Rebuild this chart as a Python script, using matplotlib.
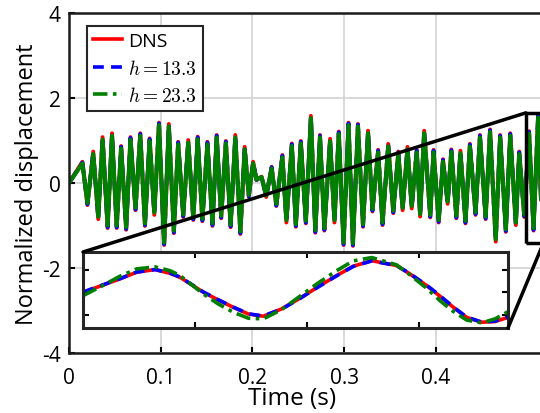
import matplotlib
matplotlib.use('Agg')
import matplotlib.pyplot as plt
from matplotlib.patches import Rectangle, ConnectionPatch

plt.rcParams['font.family'] = ['Open Sans', 'DejaVu Sans']
plt.rcParams['mathtext.fontset'] = 'cm'
plt.rcParams['axes.unicode_minus'] = False

# main trace: successive peaks / troughs
t_main = [0.0000, 0.0146, 0.0201, 0.0264, 0.0319, 0.0366, 0.0421, 0.0469, 0.0520, 0.0568,
          0.0623, 0.0670, 0.0725, 0.0777, 0.0828, 0.0879, 0.0930, 0.0981, 0.1037, 0.1088,
          0.1143, 0.1190, 0.1245, 0.1300, 0.1355, 0.1403, 0.1454, 0.1509, 0.1564, 0.1610,
          0.1659, 0.1710, 0.1762, 0.1813, 0.1868, 0.1915, 0.1960, 0.2007, 0.2044, 0.2099,
          0.2150, 0.2209, 0.2260, 0.2326, 0.2370, 0.2429, 0.2473, 0.2527, 0.2582, 0.2637,
          0.2685, 0.2736, 0.2784, 0.2846, 0.2894, 0.2941, 0.2993, 0.3047, 0.3095, 0.3150,
          0.3205, 0.3260, 0.3308, 0.3370, 0.3418, 0.3480, 0.3535, 0.3590, 0.3637, 0.3690,
          0.3736, 0.3791, 0.3828, 0.3872, 0.3938, 0.3974, 0.4030, 0.4077, 0.4128, 0.4168,
          0.4223, 0.4267, 0.4322, 0.4370, 0.4432, 0.4480, 0.4542, 0.4590, 0.4652, 0.4700,
          0.4762, 0.4810, 0.4871, 0.4908, 0.4963, 0.5015, 0.5064, 0.5114, 0.5160, 0.5200]

dns_main = [0.00, 0.50, -0.52, 0.74, -0.85, 1.08, -1.06, 1.17, -1.06, 0.87,
            -1.10, 1.08, -0.64, 1.17, -1.01, 1.05, -0.75, 1.42, -1.46, 1.39,
            -1.18, 0.97, -0.80, 1.01, -0.87, 1.09, -0.90, 0.97, -1.01, 1.13,
            -0.83, 0.99, -1.04, 1.13, -1.20, 0.85, -0.32, 0.50, 0.07, 0.15,
            -0.33, 0.38, -0.54, 0.66, -0.93, 0.93, -1.03, 0.99, -0.95, 1.58,
            -1.17, 1.13, -1.12, 1.04, -0.93, 1.21, -1.46, 1.42, -1.48, 1.39,
            -1.03, 1.23, -0.67, 0.78, -0.99, 0.92, -0.71, 0.74, -0.64, 0.85,
            -0.60, 0.78, -0.79, 1.23, -0.81, 0.78, -0.93, 0.56, -0.49, 0.79,
            -0.83, 0.76, -0.95, 0.92, -0.75, 1.13, -0.85, 1.26, -1.38, 1.13,
            -1.15, 1.17, -0.99, 0.74, -0.80, 1.22, -1.12, 1.60, -1.30, 0.90]

h133_main = [0.00, 0.48, -0.50, 0.72, -0.83, 1.06, -1.04, 1.15, -1.04, 0.85,
             -1.08, 1.06, -0.62, 1.15, -0.99, 1.03, -0.73, 1.40, -1.44, 1.37,
             -1.16, 0.95, -0.78, 0.99, -0.85, 1.07, -0.88, 0.95, -0.99, 1.11,
             -0.81, 0.97, -1.02, 1.11, -1.18, 0.83, -0.31, 0.49, 0.07, 0.15,
             -0.32, 0.37, -0.53, 0.64, -0.91, 0.91, -1.01, 0.97, -0.93, 1.56,
             -1.15, 1.11, -1.10, 1.02, -0.91, 1.19, -1.44, 1.40, -1.46, 1.37,
             -1.01, 1.21, -0.65, 0.76, -0.97, 0.90, -0.69, 0.72, -0.62, 0.83,
             -0.58, 0.76, -0.77, 1.21, -0.79, 0.76, -0.91, 0.54, -0.48, 0.77,
             -0.81, 0.74, -0.93, 0.90, -0.73, 1.11, -0.83, 1.24, -1.36, 1.11,
             -1.13, 1.15, -0.97, 0.72, -0.78, 1.20, -1.10, 1.58, -1.28, 0.88]

h233_main = [0.00, 0.46, -0.47, 0.68, -0.79, 1.02, -1.00, 1.11, -1.00, 0.81,
             -1.04, 1.02, -0.58, 1.11, -0.95, 0.99, -0.69, 1.36, -1.40, 1.33,
             -1.12, 0.91, -0.74, 0.95, -0.81, 1.03, -0.84, 0.91, -0.95, 1.07,
             -0.77, 0.93, -0.98, 1.07, -1.14, 0.79, -0.28, 0.46, 0.08, 0.14,
             -0.29, 0.34, -0.49, 0.60, -0.87, 0.87, -0.97, 0.93, -0.89, 1.52,
             -1.11, 1.07, -1.06, 0.98, -0.87, 1.15, -1.40, 1.36, -1.42, 1.33,
             -0.97, 1.17, -0.61, 0.72, -0.93, 0.86, -0.65, 0.68, -0.58, 0.79,
             -0.54, 0.72, -0.73, 1.17, -0.75, 0.72, -0.87, 0.50, -0.44, 0.73,
             -0.77, 0.70, -0.89, 0.86, -0.69, 1.07, -0.79, 1.20, -1.32, 1.07,
             -1.09, 1.11, -0.93, 0.68, -0.74, 1.16, -1.06, 1.54, -1.24, 0.84]

# zoomed window (inset)
t_zoom = [0.49801, 0.49883, 0.49965, 0.50040, 0.50122, 0.50189, 0.50234, 0.50338, 0.50405,
          0.50472, 0.50539, 0.50606, 0.50688, 0.50770, 0.50852, 0.50934, 0.51008, 0.51091,
          0.51202, 0.51262, 0.51336, 0.51396, 0.51456, 0.51515, 0.51582, 0.51642, 0.51701]
dns_zoom = [0.01, 0.31, 0.61, 0.91, 1.03, 0.86, 0.68, 0.01, -0.34, -0.67, -0.97, -1.07, -0.74,
            -0.26, 0.26, 0.76, 1.18, 1.43, 1.21, 0.83, 0.31, -0.17, -0.67, -1.12, -1.34, -1.31, -1.12]
h133_zoom = [0.02, 0.32, 0.62, 0.92, 1.03, 0.87, 0.69, 0.02, -0.33, -0.66, -0.96, -1.06, -0.75,
             -0.27, 0.25, 0.75, 1.17, 1.42, 1.21, 0.84, 0.33, -0.15, -0.66, -1.11, -1.33, -1.29, -1.10]
h233_zoom = [-0.14, 0.28, 0.73, 1.06, 1.15, 0.98, 0.76, -0.07, -0.52, -0.89, -1.16, -1.19, -0.77,
             -0.17, 0.43, 0.98, 1.42, 1.57, 1.24, 0.79, 0.19, -0.37, -0.86, -1.24, -1.37, -1.19, -0.86]

zoom_x = (0.498, 0.517)
zoom_y = (-1.42, 1.65)

fig = plt.figure(figsize=(5.4, 4.14), dpi=100)
ax = fig.add_axes([69/540, 60/414, 477/540, 340/414])

ax.plot(t_main, dns_main, color='#ff0000', lw=2.8, solid_joinstyle='round')
ax.plot(t_main, h133_main, color='#0000ff', lw=2.8, ls='--')
ax.plot(t_main, h233_main, color='#008000', lw=3.0, solid_joinstyle='round')

ax.set_xlim(0, 0.52)
ax.set_ylim(-4, 4)
ax.set_xticks([0, 0.1, 0.2, 0.3, 0.4])
ax.set_xticklabels(['0', '0.1', '0.2', '0.3', '0.4'])
ax.set_yticks([-4, -2, 0, 2, 4])
ax.set_yticklabels(['-4', '-2', '0', '2', '4'])
ax.grid(True, color='#d6d6d6', lw=1.3)
ax.set_axisbelow(True)
ax.tick_params(direction='in', length=4, width=1.5, labelsize=15)
ax.tick_params(axis='x', pad=10)
ax.tick_params(axis='y', pad=6)
for s in ax.spines.values():
    s.set_linewidth(1.8)
    s.set_color('#1a1a1a')
ax.set_xlabel('Time (s)', fontsize=17.5)
ax.xaxis.set_label_coords(0.467, -0.098)
ax.set_ylabel('Normalized displacement', fontsize=17, labelpad=2)

ax.add_patch(Rectangle((zoom_x[0], zoom_y[0]), zoom_x[1] - zoom_x[0], zoom_y[1] - zoom_y[0],
                       fill=False, ec='k', lw=2.5, zorder=5))

axin = fig.add_axes([83/540, 85/414, 425/540, 76/414])
l1, = axin.plot(t_zoom, dns_zoom, color='#ff0000', lw=2.6)
l2, = axin.plot(t_zoom, h133_zoom, color='#0000ff', lw=2.6, ls='--', dashes=(3, 2))
l3, = axin.plot(t_zoom, h233_zoom, color='#008000', lw=2.6, ls='-.', dashes=(4, 1.5, 1, 1.5))
axin.set_xlim(*zoom_x)
axin.set_ylim(-1.6, 1.82)
axin.set_xticks([0.503, 0.508, 0.513])
axin.set_yticks([-1, 0, 1])
axin.tick_params(direction='in', length=4, width=1.5, labelbottom=False, labelleft=False,
                 top=True, right=True)
for s in axin.spines.values():
    s.set_linewidth(2.2)
    s.set_color('#262626')

for xa, xb in [((0, 1), (zoom_x[0], zoom_y[1])), ((1, 0), (zoom_x[1], zoom_y[0]))]:
    con = ConnectionPatch(xyA=xa, coordsA=axin.transAxes, xyB=xb, coordsB=ax.transData,
                          color='k', lw=2.5)
    fig.add_artist(con)

leg = ax.legend(handles=[l1, l2, l3], labels=['DNS', r'$h = 13.3$', r'$h = 23.3$'],
                loc='upper left', bbox_to_anchor=(0.038, 0.962), fontsize=14,
                fancybox=False, framealpha=1, edgecolor='#262626', handlelength=1.5,
                handletextpad=0.3, borderpad=0.3, labelspacing=0.45, borderaxespad=0)
leg.get_frame().set_linewidth(1.5)

fig.savefig('out.png', dpi=100)
